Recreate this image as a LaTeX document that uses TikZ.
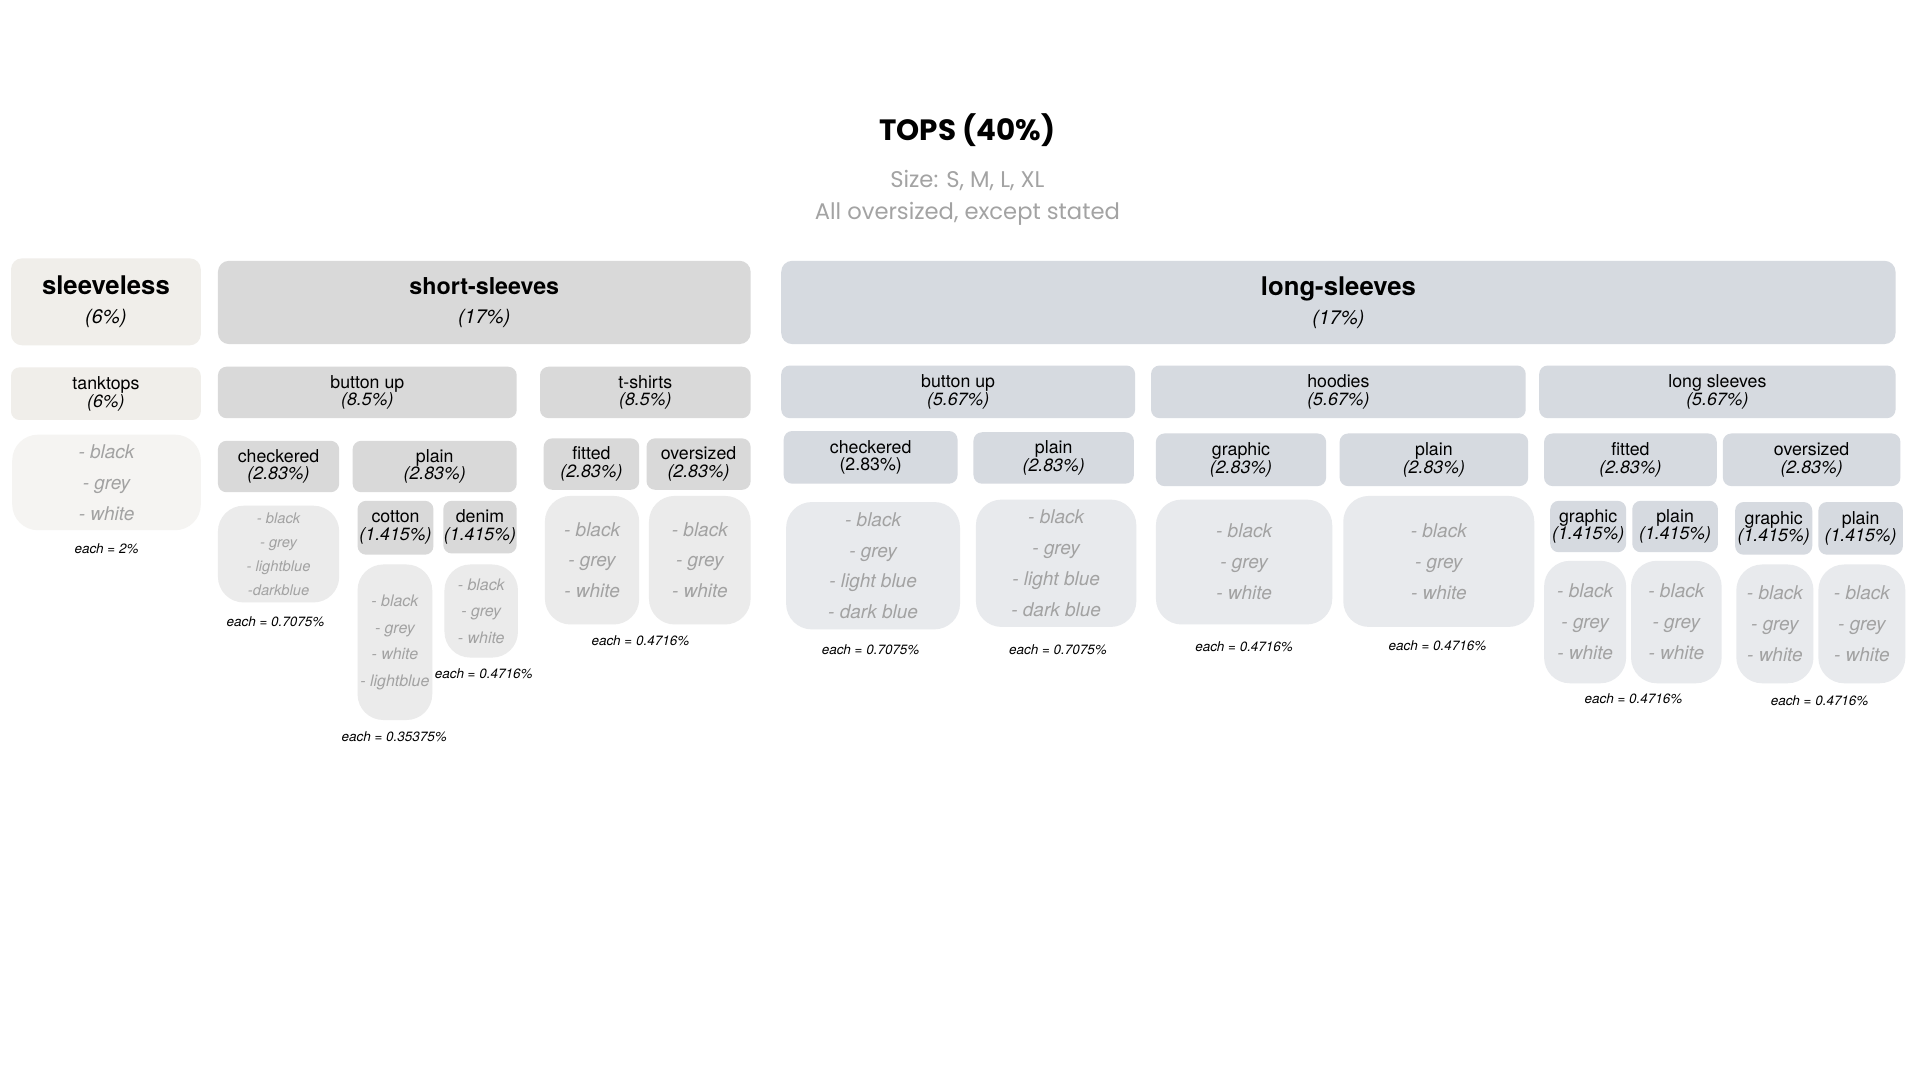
\documentclass[tikz,border=0pt]{standalone}
\usepackage{fontspec}
\setmainfont{TeX Gyre Heros}
\newfontfamily\titlefont{Poppins}

\definecolor{slA}{HTML}{F0EEEA}
\definecolor{slB}{HTML}{F5F4F2}
\definecolor{ssA}{HTML}{D9D9D9}
\definecolor{ssB}{HTML}{EBEBEB}
\definecolor{lsA}{HTML}{D6DAE0}
\definecolor{lsB}{HTML}{E8EAED}
\definecolor{listgrey}{HTML}{A2A2A2}
\definecolor{subgrey}{HTML}{A3A3A3}

\tikzset{
  dims/.style 2 args={minimum width=#1,minimum height=#2},
  headbox/.style={rounded corners=9pt,inner sep=0pt,align=center,font=\itshape\fontsize{16}{24}\selectfont},
  catbox/.style={rounded corners=7pt,inner sep=0pt,align=center,font=\fontsize{14.5}{14.5}\selectfont},
  colbox/.style={rounded corners=21pt,inner sep=0pt,align=center,text=listgrey,font=\itshape\fontsize{15.5}{25.3}\selectfont},
  eachnote/.style={inner sep=0pt,font=\itshape\fontsize{11}{11}\selectfont}
}

\begin{document}
\begin{tikzpicture}[x=1pt,y=-1pt]
  \useasboundingbox[fill=white] (0,0) rectangle (1568,882);

  \node[font=\titlefont\bfseries\fontsize{24}{24}\selectfont] (title) at (790,106) {TOPS (40\%)};
  \node[text=subgrey,font=\titlefont\fontsize{18.5}{26}\selectfont,align=center] (sub) at (790,161.5)
    {Size: S, M, L, XL\\All oversized, except stated};

  % sleeveless
  \node[headbox,fill=slA,dims={155}{71}] (sl) at (86.5,246.5)
    {{\upshape\bfseries\fontsize{21}{21}\selectfont sleeveless}\\(6\%)};
  \node[catbox,fill=slA,dims={155}{43}] (tank) at (86.5,321.5) {tanktops\\\textit{(6\%)}};
  \node[colbox,fill=slB,dims={154}{78}] (tankcol) at (87,394) {- black\\- grey\\- white};
  \node[eachnote] (tankeach) at (87,448) {each = 2\%};

  % short-sleeves
  \node[headbox,fill=ssA,dims={435}{68}] (ss) at (395.5,247)
    {{\upshape\bfseries\fontsize{19}{19}\selectfont short-sleeves}\\(17\%)};
  \node[catbox,fill=ssA,dims={244}{42}] (ssbtn) at (300,320.5) {button up\\\textit{(8.5\%)}};
  \node[catbox,fill=ssA,dims={172}{42}] (tee) at (527,320.5) {t-shirts\\\textit{(8.5\%)}};

  \node[catbox,fill=ssA,dims={99}{42}] (sschk) at (227.5,381) {checkered\\\textit{(2.83\%)}};
  \node[catbox,fill=ssA,dims={134}{42}] (sspl) at (355,381) {plain\\\textit{(2.83\%)}};
  \node[colbox,fill=ssB,dims={99}{79},font=\itshape\fontsize{12}{19.7}\selectfont] (sschkcol) at (227.5,452.5)
    {- black\\- grey\\- lightblue\\-darkblue};
  \node[eachnote] (sschkeach) at (225,508) {each = 0.7075\%};

  \node[catbox,fill=ssA,dims={62}{44}] (cotton) at (323,431) {cotton\\\textit{(1.415\%)}};
  \node[catbox,fill=ssA,dims={60}{43}] (denim) at (392,430.5) {denim\\\textit{(1.415\%)}};
  \node[colbox,fill=ssB,dims={61}{127},font=\itshape\fontsize{13}{21.7}\selectfont] (cottoncol) at (322.5,524.5)
    {- black\\- grey\\- white\\- lightblue};
  \node[colbox,fill=ssB,dims={60}{76},font=\itshape\fontsize{13}{21.5}\selectfont] (denimcol) at (393,499)
    {- black\\- grey\\- white};
  \node[eachnote] (cottoneach) at (322,602) {each = 0.35375\%};
  \node[eachnote] (denimeach) at (395,550) {each = 0.4716\%};

  \node[catbox,fill=ssA,dims={78}{42}] (teefit) at (483,379) {fitted\\\textit{(2.83\%)}};
  \node[catbox,fill=ssA,dims={85}{42}] (teeover) at (570.5,379) {oversized\\\textit{(2.83\%)}};
  \node[colbox,fill=ssB,dims={77}{105}] (teefitcol) at (483.5,457.5) {- black\\- grey\\- white};
  \node[colbox,fill=ssB,dims={83}{105}] (teeovercol) at (571.5,457.5) {- black\\- grey\\- white};
  \node[eachnote] (teeeach) at (523,523) {each = 0.4716\%};

  % long-sleeves
  \node[headbox,fill=lsA,dims={910}{68}] (ls) at (1093,247)
    {{\upshape\bfseries\fontsize{21}{21}\selectfont long-sleeves}\\(17\%)};
  \node[catbox,fill=lsA,dims={289}{43}] (lsbtn) at (782.5,320) {button up\\\textit{(5.67\%)}};
  \node[catbox,fill=lsA,dims={306}{43}] (hood) at (1093,320) {hoodies\\\textit{(5.67\%)}};
  \node[catbox,fill=lsA,dims={291}{43}] (lsl) at (1402.5,320) {long sleeves\\\textit{(5.67\%)}};

  \node[catbox,fill=lsA,dims={142}{43}] (lschk) at (711,373.5) {checkered\\(2.83\%)};
  \node[catbox,fill=lsA,dims={131}{42}] (lspl) at (860.5,374) {plain\\\textit{(2.83\%)}};
  \node[colbox,fill=lsB,dims={142}{104}] (lschkcol) at (713,462) {- black\\- grey\\- light blue\\- dark blue};
  \node[colbox,fill=lsB,dims={131}{104}] (lsplcol) at (862.5,460) {- black\\- grey\\- light blue\\- dark blue};
  \node[eachnote] (lschkeach) at (711,531) {each = 0.7075\%};
  \node[eachnote] (lspleach) at (864,531) {each = 0.7075\%};

  \node[catbox,fill=lsA,dims={139}{43}] (hoodgr) at (1013.5,375.5) {graphic\\\textit{(2.83\%)}};
  \node[catbox,fill=lsA,dims={154}{43}] (hoodpl) at (1171,375.5) {plain\\\textit{(2.83\%)}};
  \node[colbox,fill=lsB,dims={144}{102}] (hoodgrcol) at (1016,459) {- black\\- grey\\- white};
  \node[colbox,fill=lsB,dims={156}{107}] (hoodplcol) at (1175,458.5) {- black\\- grey\\- white};
  \node[eachnote] (hoodgreach) at (1016,528) {each = 0.4716\%};
  \node[eachnote] (hoodpleach) at (1174,527) {each = 0.4716\%};

  \node[catbox,fill=lsA,dims={141}{43}] (lslfit) at (1331.5,375.5) {fitted\\\textit{(2.83\%)}};
  \node[catbox,fill=lsA,dims={145}{43}] (lslover) at (1479.5,375.5) {oversized\\\textit{(2.83\%)}};
  \node[catbox,fill=lsA,dims={62}{42}] (fitgr) at (1297,430) {graphic\\\textit{(1.415\%)}};
  \node[catbox,fill=lsA,dims={70}{42}] (fitpl) at (1368,430) {plain\\\textit{(1.415\%)}};
  \node[catbox,fill=lsA,dims={63}{43}] (ovgr) at (1448.5,431.5) {graphic\\\textit{(1.415\%)}};
  \node[catbox,fill=lsA,dims={69}{43}] (ovpl) at (1519.5,431.5) {plain\\\textit{(1.415\%)}};
  \node[colbox,fill=lsB,dims={67}{100}] (fitgrcol) at (1294.5,508) {- black\\- grey\\- white};
  \node[colbox,fill=lsB,dims={74}{100}] (fitplcol) at (1369,508) {- black\\- grey\\- white};
  \node[colbox,fill=lsB,dims={63}{97}] (ovgrcol) at (1449.5,509.5) {- black\\- grey\\- white};
  \node[colbox,fill=lsB,dims={71}{97}] (ovplcol) at (1520.5,509.5) {- black\\- grey\\- white};
  \node[eachnote] (fiteach) at (1334,571) {each = 0.4716\%};
  \node[eachnote] (oveach) at (1486,572) {each = 0.4716\%};
\end{tikzpicture}
\end{document}
